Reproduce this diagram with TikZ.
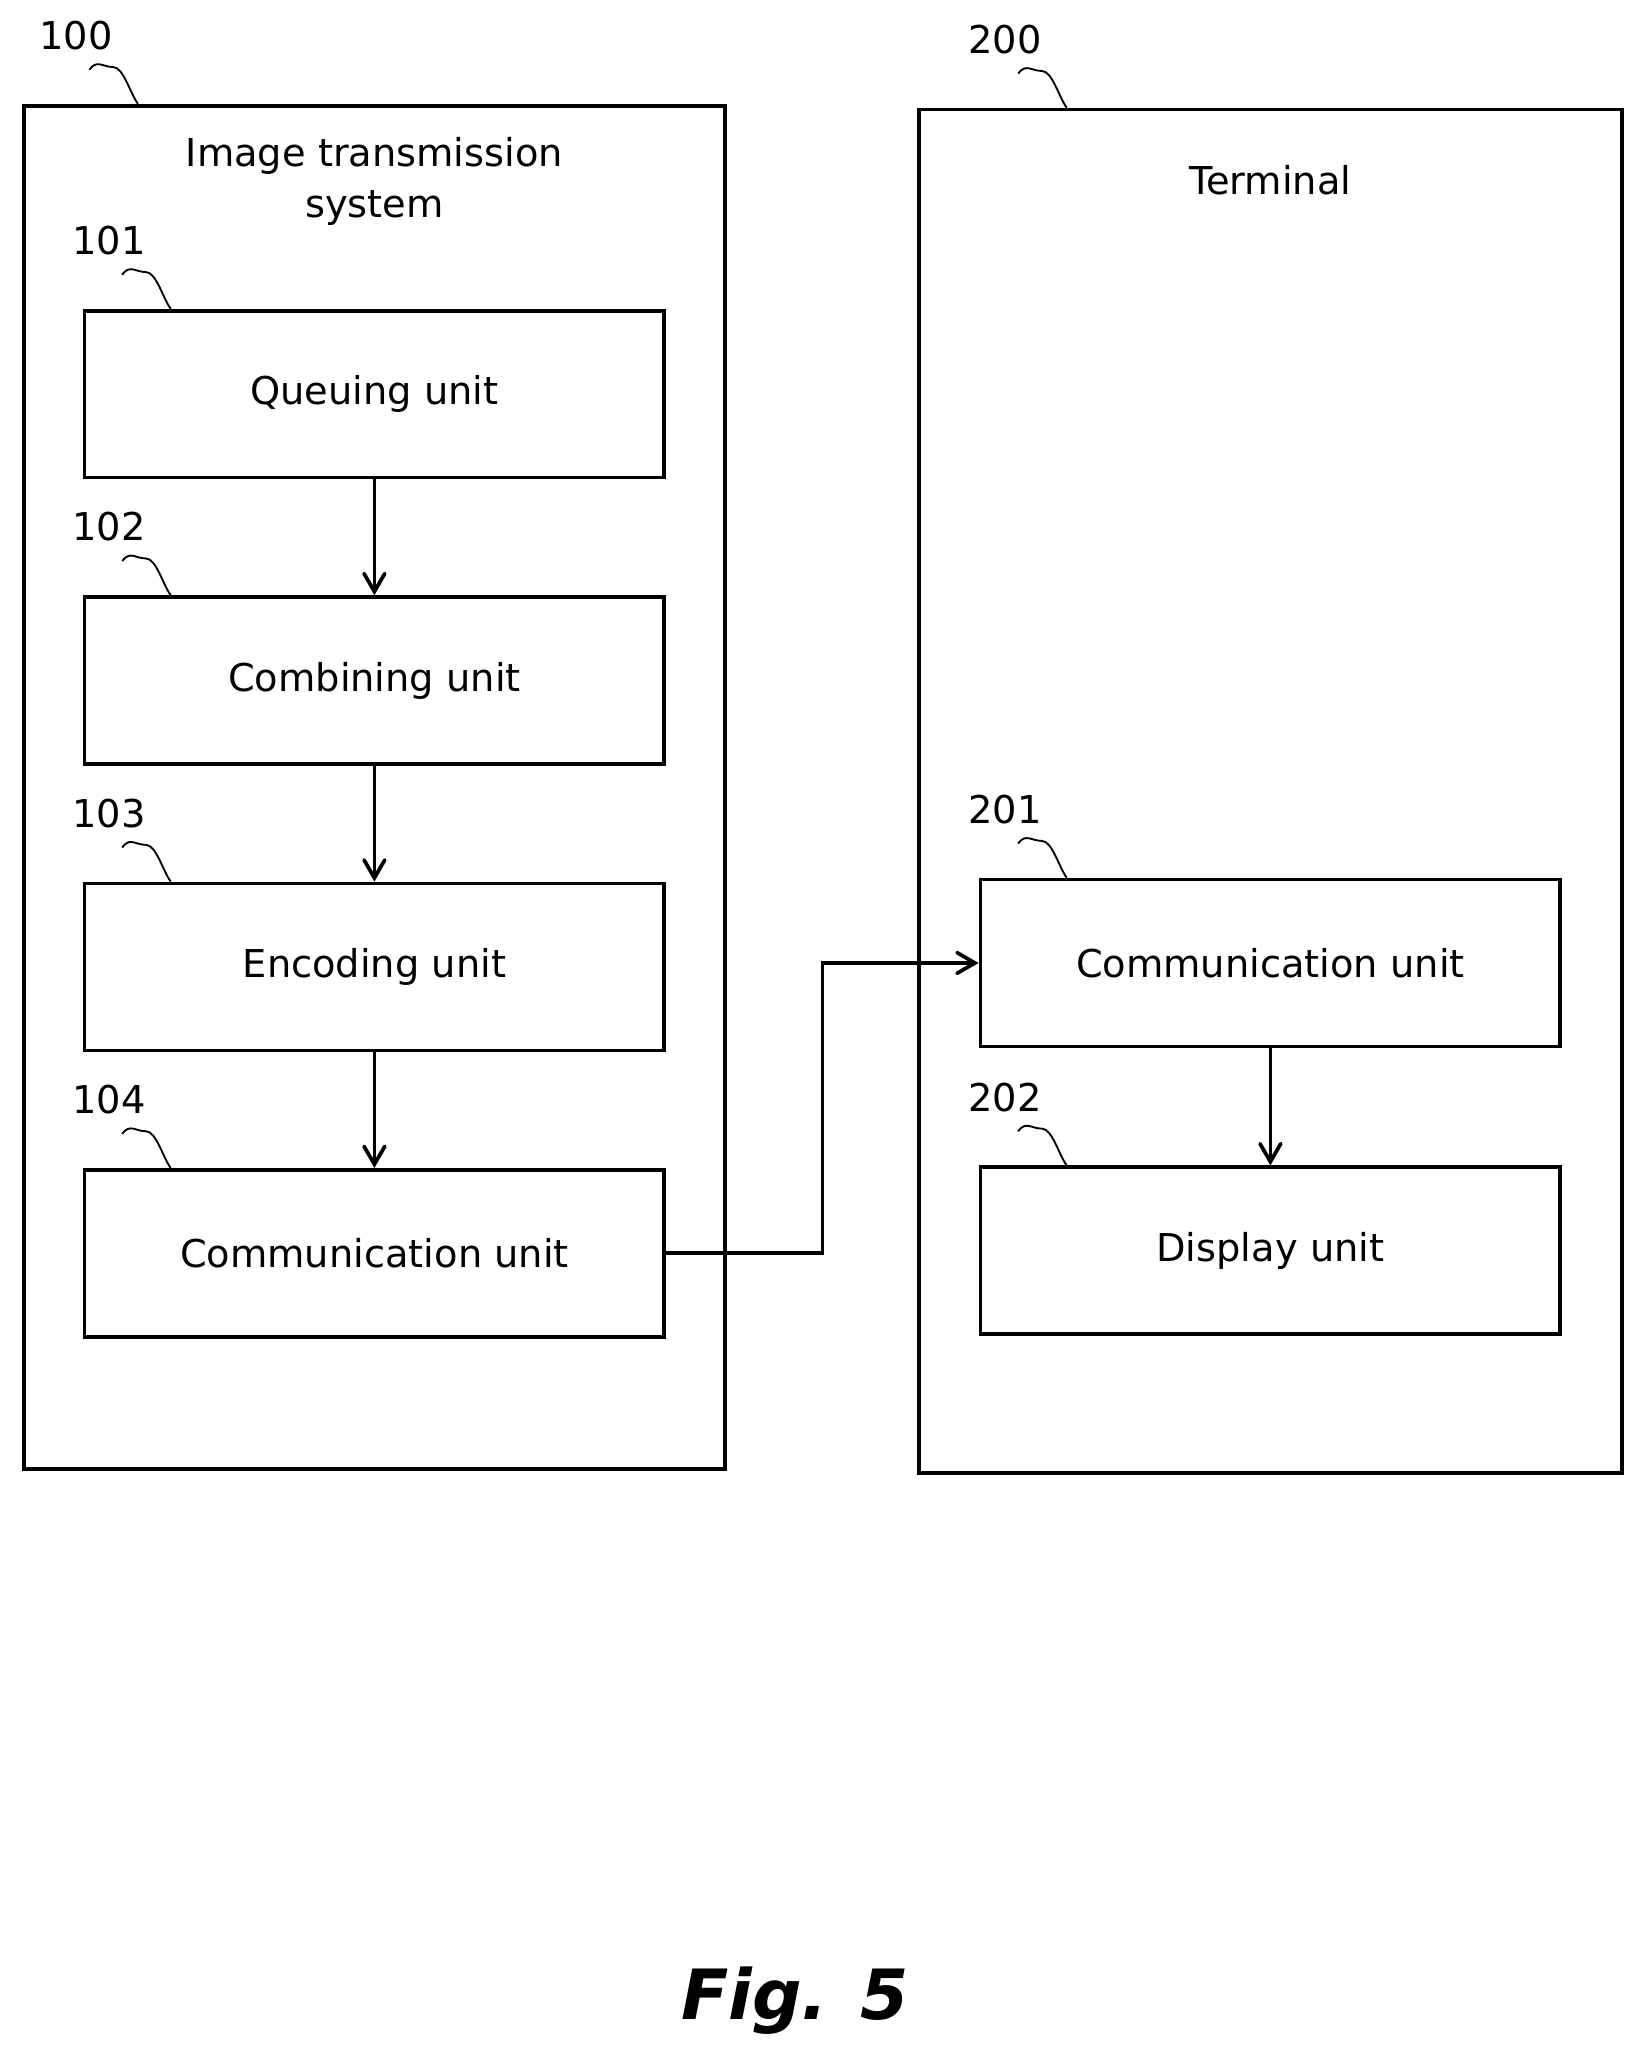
\documentclass[tikz,border=0pt]{standalone}
\usepackage{fontspec}
\setmainfont{DejaVu Sans}
\usetikzlibrary{arrows,positioning}

\begin{document}
\begin{tikzpicture}[x=0.01cm,y=-0.01cm,
    >=angle 60,
    font=\fontsize{8.3}{10}\selectfont,
    ]
% -------------------------------------------------
% styles
\tikzset{
  frame/.style={draw, thick, anchor=north west, inner sep=0pt},
  unit/.style={draw, thick, minimum width=4.41cm, minimum height=1.27cm},
  ref/.style={inner sep=0pt},
  to/.style={->, thick},
  lead/.style={thin},
}
\useasboundingbox (0,0) rectangle (1250,1565);
% -------------------------------------------------
% outer frames
\node [frame, minimum width=5.33cm, minimum height=10.37cm] (sys) at (17,79) {};
\node [frame, minimum width=5.35cm, minimum height=10.37cm] (term) at (698,82) {};
\node [align=center] (systitle) at (285,138) {Image transmission\\[1pt]system};
\node (termtitle) at (967,137) {Terminal};
% units
\node [unit] (queue) at (285,300) {Queuing unit};
\node [unit] (comb) at (285,518) {Combining unit};
\node [unit] (enc) at (285,736) {Encoding unit};
\node [unit] (comm) at (285,954) {Communication unit};
\node [unit] (tcomm) at (967,733) {Communication unit};
\node [unit] (disp) at (967,952) {Display unit};
% reference numerals with leader lines
\foreach \n/\b/\dx in {100/sys/41, 200/term/67, 101/queue/20, 102/comb/20,
                       103/enc/20, 104/comm/20, 201/tcomm/20, 202/disp/20} {
  \node [ref] (r\n) at ([shift={(\dx,-52)}]\b.north west) {\n};
  \draw [lead] ([shift={(\dx+10,-26)}]\b.north west)
    .. controls +(6,-8) and +(-8,0) .. +(18,-2)
    .. controls +(8,0) and +(-6,-8) .. ([shift={(\dx+47,0)}]\b.north west);
}
% connectors
\draw [to] (queue) -- (comb);
\draw [to] (comb) -- (enc);
\draw [to] (enc) -- (comm);
\draw [to] (tcomm) -- (disp);
\draw [to] (comm.east) -- ++(119,0) |- (tcomm.west);
% caption
\node [font=\fontsize{15}{18}\selectfont\bfseries\itshape] (fig) at (605,1523) {Fig. 5};
\end{tikzpicture}
\end{document}
